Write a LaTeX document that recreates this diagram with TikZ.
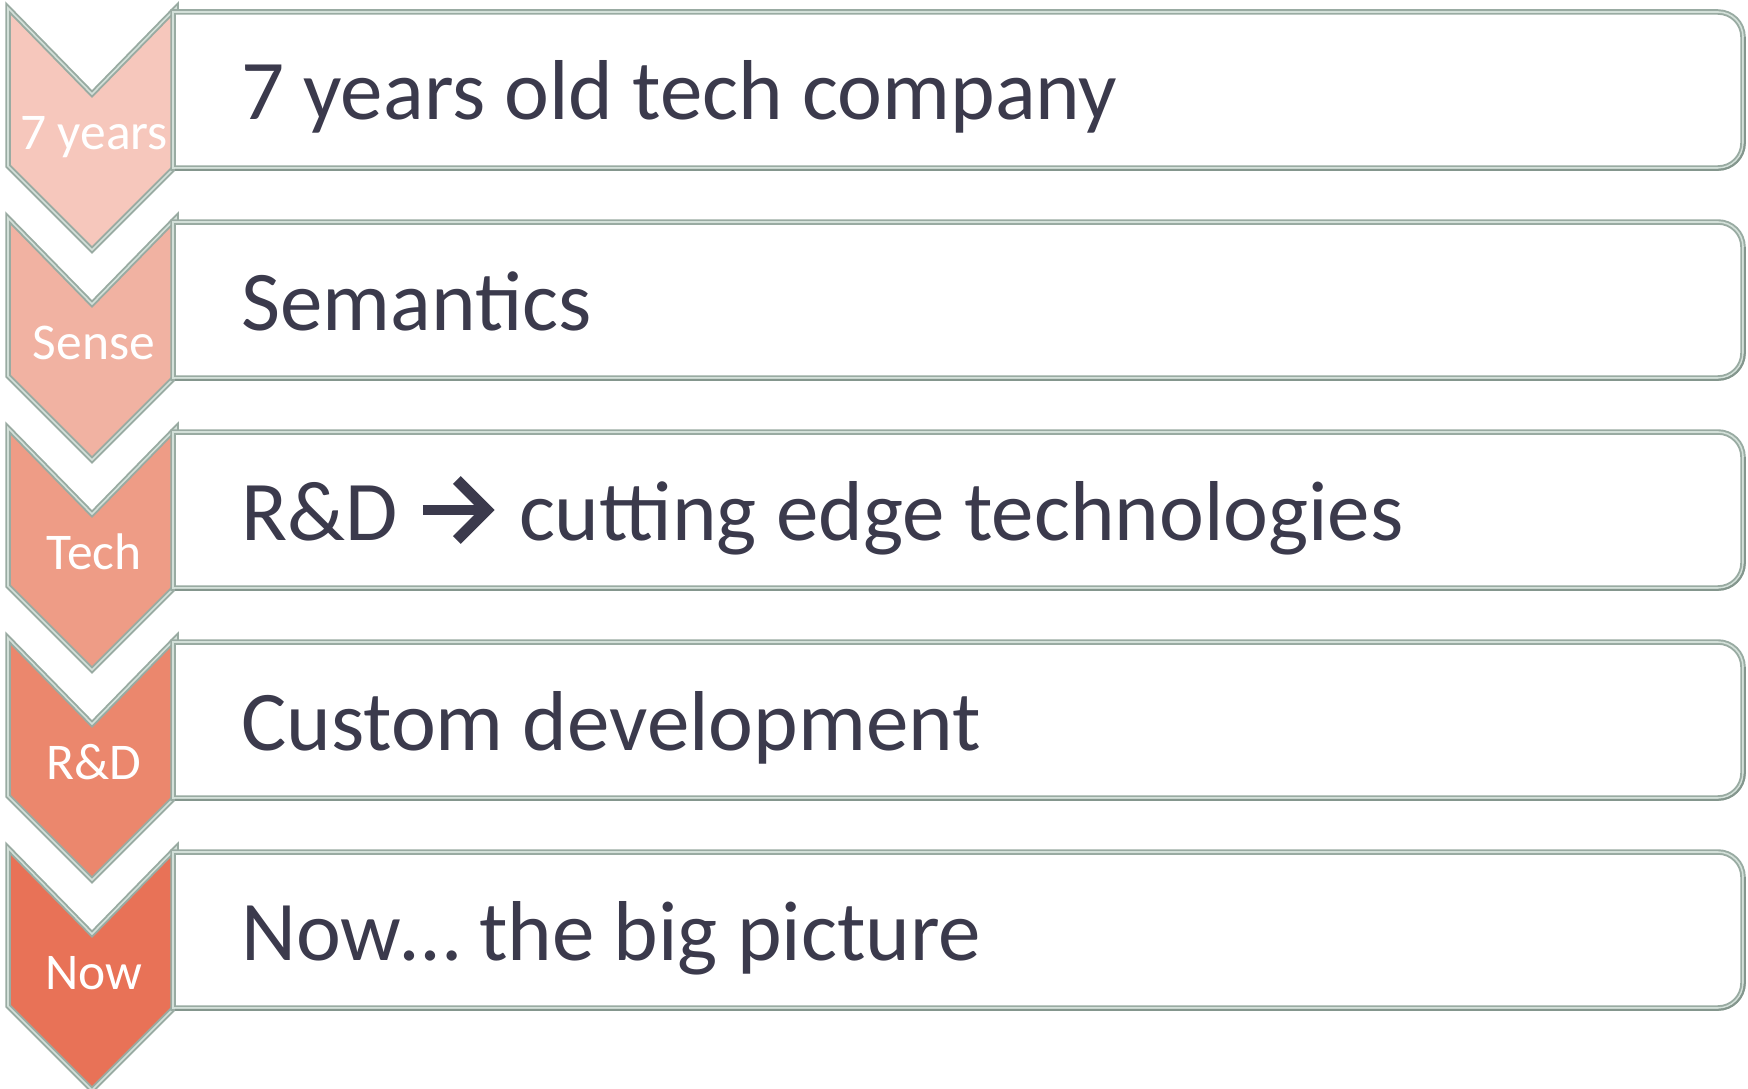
\documentclass[tikz,border=0pt]{standalone}
\usepackage{fontspec}
\setmainfont{Carlito}
\usetikzlibrary{calc}
\definecolor{txt}{HTML}{3B3A4C}
\definecolor{bord}{HTML}{99ABA2}
\definecolor{bordhi}{HTML}{D3E0D9}
\definecolor{borddk}{HTML}{84968D}
\definecolor{cA}{HTML}{F6C7BC}
\definecolor{cB}{HTML}{F1B2A2}
\definecolor{cC}{HTML}{EE9C86}
\definecolor{cD}{HTML}{EB876D}
\definecolor{cE}{HTML}{E87257}
\tikzset{
  edgeout/.style={draw=bord, line width=5.5pt, line join=miter},
  edgein/.style={draw=bordhi, line width=1.6pt, line join=miter},
  edgedark/.style={draw=borddk, line width=2pt},
  chevlabel/.style={anchor=base, text=white, inner sep=0pt, font=\fontsize{51.5}{60}\selectfont},
  maintext/.style={anchor=base west, text=txt, inner sep=0pt, font=\fontsize{85}{100}\selectfont},
  arrowline/.style={draw=txt, line width=10pt},
  arrowhead/.style={draw=txt, line width=11pt, line join=miter, line cap=butt}
}
\begin{document}
\begin{tikzpicture}[x=1pt,y=-1pt]
\useasboundingbox (0,0) rectangle (1748,1089);
\foreach \i/\c/\lab in {0/cA/7 years,1/cB/Sense,2/cC/Tech,3/cD/R\&D,4/cE/Now}{
  \pgfmathsetmacro\t{8+210*\i}
  \pgfmathsetmacro\bt{12+210*\i}
  \pgfmathsetmacro\bb{168+210*\i}
  % chevron
  \fill[\c] (8,\t) -- (92,\t+86) -- (176,\t) -- (176,\t+158) -- (92,\t+242) -- (8,\t+158) -- cycle;
  \draw[edgeout] (8,\t) -- (92,\t+86) -- (176,\t) -- (176,\t+158) -- (92,\t+242) -- (8,\t+158) -- cycle;
  \draw[edgein] (8,\t) -- (92,\t+86) -- (176,\t) -- (176,\t+158) -- (92,\t+242) -- (8,\t+158) -- cycle;
  % box
  \fill[white] (173,\bt) -- (1718,\bt) arc[start angle=-90,end angle=0,radius=25] -- (1743,\bb-25) arc[start angle=0,end angle=90,radius=25] -- (173,\bb) -- cycle;
  \draw[edgeout] (173,\bt) -- (1718,\bt) arc[start angle=-90,end angle=0,radius=25] -- (1743,\bb-25) arc[start angle=0,end angle=90,radius=25] -- (173,\bb) -- cycle;
  \draw[edgein] (173,\bt) -- (1718,\bt) arc[start angle=-90,end angle=0,radius=25] -- (1743,\bb-25) arc[start angle=0,end angle=90,radius=25] -- (173,\bb) -- cycle;
  \draw[edgedark] (175,\bb+1.8) -- (1718,\bb+1.8) arc[start angle=90,end angle=0,radius=26.8] -- (1744.8,\bt+25);
  \node[chevlabel] (lab\i) at (94,\t+141.5) {\lab};
}
\node[maintext] (t0) at (241,120) {7 years old tech company};
\node[maintext] (t1) at (241,330) {Semantics};
\node[maintext] (t2a) at (241,540) {R\&D};
\coordinate (arrS) at ($(t2a.base east)+(25,-30)$);
\coordinate (arrE) at ($(t2a.base east)+(89,-30)$);
\coordinate (arrU) at ($(t2a.base east)+(59,-60)$);
\coordinate (arrL) at ($(t2a.base east)+(59,0)$);
\draw[arrowline] (arrS) -- (arrE);
\draw[arrowhead] (arrU) -- (arrE) -- (arrL);
\node[maintext] (t2b) at ($(t2a.base east)+(121,0)$) {cutting edge technologies};
\node[maintext] (t3) at (241,750) {Custom development};
\node[maintext] (t4) at (241,960) {Now… the big picture};
\end{tikzpicture}
\end{document}
